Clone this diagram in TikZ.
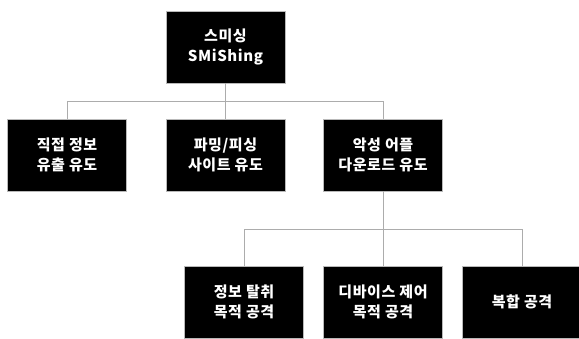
\documentclass[tikz,border=0pt]{standalone}
\usepackage{fontspec}
\setmainfont{Noto Sans CJK KR}[LetterSpace=4]
\tikzset{
  box/.style={fill=black, draw=gray!55, line width=0.6pt, minimum width=119pt, minimum height=72pt,
    text=white, align=center, inner sep=0pt, font=\fontsize{15}{19.5}\selectfont\bfseries},
  link/.style={draw=gray!65, line width=1pt}
}
\begin{document}
\begin{tikzpicture}[x=1pt,y=-1pt]
\useasboundingbox (0,0) rectangle (579,338);
\clip (0,0) rectangle (579,338);
\node[box] (top) at (225.5,47) {스미싱\\SMiShing};
\node[box] (a) at (67,155) {직접 정보\\유출 유도};
\node[box] (b) at (225.5,155) {파밍/피싱\\사이트 유도};
\node[box] (c) at (383,155) {악성 어플\\다운로드 유도};
\node[box] (d) at (244,302) {정보 탈취\\목적 공격};
\node[box] (e) at (383,302) {디바이스 제어\\목적 공격};
\node[box] (f) at (522,302) {복합 공격};
\coordinate (j1) at (225.5,101);
\coordinate (j2) at (383,229);
\draw[link] (top.south) -- (b.north);
\draw[link] (top.south |- j1) -| (a.north);
\draw[link] (top.south |- j1) -| (c.north);
\draw[link] (c.south) -- (e.north);
\draw[link] (j2) -| (d.north);
\draw[link] (j2) -| (f.north);
\end{tikzpicture}
\end{document}
